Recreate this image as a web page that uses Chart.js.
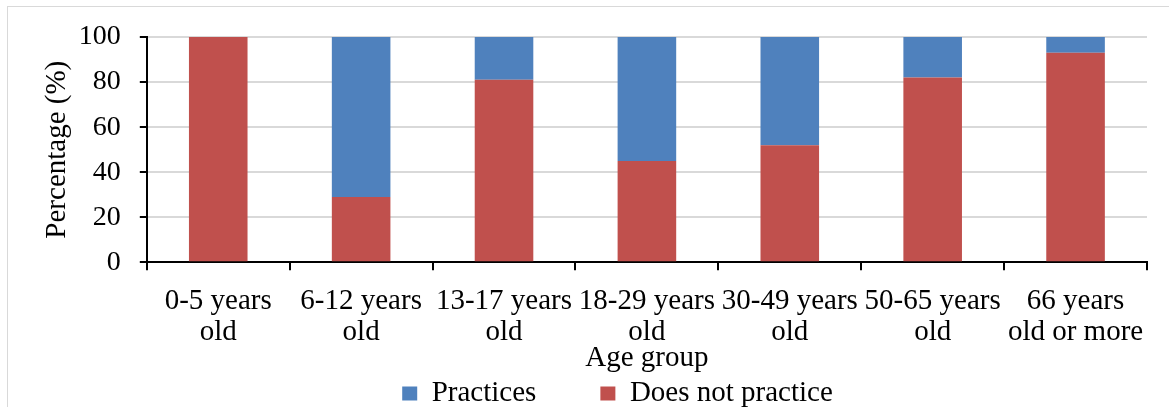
<!DOCTYPE html>
<html>
<head>
<meta charset="utf-8">
<script src="https://cdn.jsdelivr.net/npm/chart.js@4.4.1/dist/chart.umd.min.js"></script>
<style>
  html, body { margin: 0; padding: 0; background: #fff; overflow: hidden; }
  #wrap { position: relative; width: 1169px; height: 407px; }
  #frame { position: absolute; left: 7px; top: 6px; width: 1200px; height: 440px; border: 1px solid #d9d9d9; box-sizing: border-box; }
  canvas { position: absolute; left: 0; top: 0; }
</style>
</head>
<body>
<div id="wrap">
  <div id="frame"></div>
  <canvas id="myChart" width="1169" height="407"></canvas>
</div>
<script>
const labels = [
    ['0-5 years', 'old'],
    ['6-12 years', 'old'],
    ['13-17 years', 'old'],
    ['18-29 years', 'old'],
    ['30-49 years', 'old'],
    ['50-65 years', 'old'],
    ['66 years', 'old or more'],
  ];

// percentage by age group
const doesNotPractice = [100, 29, 81, 45, 52, 82, 93];
const practices = [0, 71, 19, 55, 48, 18, 7];

const yTicks = [0, 20, 40, 60, 80, 100];

const font = "'Liberation Serif', 'Times New Roman', serif";

const data = {
    labels: labels,
    datasets: [{
      label: 'Does not practice',
      backgroundColor: '#c0504d',
      data: doesNotPractice,
      barPercentage: 0.41,
      categoryPercentage: 1
    }, {
      label: 'Practices',
      backgroundColor: '#4f81bd',
      data: practices,
      barPercentage: 0.41,
      categoryPercentage: 1
    }]
  };

// the legend sits a bit right of centre in the original
const legendShift = {
  id: 'legendShift',
  afterLayout(chart) {
    chart.legend.left += 26;
    chart.legend.right += 26;
  }
};

const config = {
    type: 'bar',
    data: data,
    plugins: [legendShift],
    options: {
      responsive: false,
      animation: false,
      layout: { padding: { top: 37, right: 22, left: 36, bottom: -11 } },
      plugins: {
        tooltip: { enabled: false },
        legend: {
          position: 'bottom',
          reverse: true,
          labels: {
            color: '#000',
            font: { family: font, size: 29 },
            boxWidth: 15,
            boxHeight: 14,
            padding: 6,
            generateLabels: (chart) => {
              // extra gap after "Practices" like the original legend
              const items = Chart.defaults.plugins.legend.labels.generateLabels(chart);
              items.forEach(it => { if (it.text === 'Practices') it.text = 'Practices\u2003\u2003'; });
              return items;
            }
          }
        }
      },
      scales: {
        x: {
          stacked: true,
          grid: { offset: true, drawOnChartArea: false, color: '#000', tickLength: 8, lineWidth: 2 },
          border: { color: '#000', width: 2 },
          ticks: { color: '#000', font: { family: font, size: 29, lineHeight: 1.08 }, maxRotation: 0, autoSkip: false, padding: 15 },
          title: { display: true, text: 'Age group', color: '#000', font: { family: font, size: 29, lineHeight: 1 }, padding: { top: -19, bottom: 0 } }
        },
        y: {
          stacked: true,
          min: 0,
          max: 100,
          afterBuildTicks: (axis) => { axis.ticks = yTicks.map(v => ({ value: v })); },
          grid: { color: '#d9d9d9', lineWidth: 2, tickColor: '#000', tickLength: 7 },
          border: { color: '#000', width: 2 },
          ticks: { color: '#000', font: { family: font, size: 28 }, padding: 19 },
          title: { display: true, text: 'Percentage (%)', color: '#000', font: { family: font, size: 29 }, padding: { top: 4, bottom: -15 } }
        }
      }
    }
  };

const myChart = new Chart(
    document.getElementById('myChart'),
    config
  );
</script>
</body>
</html>
